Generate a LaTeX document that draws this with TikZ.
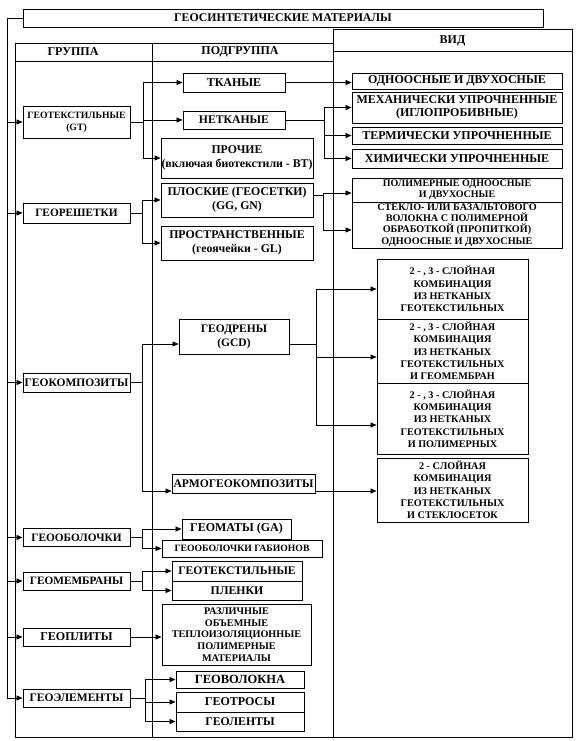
\documentclass[tikz,border=0pt]{standalone}
\usepackage{fontspec}
\setmainfont{Liberation Serif}
\usetikzlibrary{arrows.meta}
\newcommand{\myfs}[2]{\fontsize{#1}{#2}\selectfont\bfseries}
\begin{document}
\begin{tikzpicture}[x=1pt,y=-1pt,
  bx/.style={draw, line width=0.9pt, inner sep=0pt, align=center},
  hd/.style={inner sep=0pt, align=center, font=\myfs{12}{12}},
  frame/.style={line width=0.9pt},
  ln/.style={line width=0.8pt},
  arr/.style={line width=0.8pt, -{Triangle[length=6pt,width=5pt]}}]
\fill[white] (0,0) rectangle (585,741);
\useasboundingbox (0,0) rectangle (585,741);

% title
\node[bx, minimum width=520pt, minimum height=18pt, font=\myfs{11.8}{12}] (title) at (283,18) {ГЕОСИНТЕТИЧЕСКИЕ МАТЕРИАЛЫ};

% frames
\draw[frame] (15,43) rectangle (333,737);
\draw[frame] (15,61) -- (333,61);
\draw[frame] (152,43) -- (152,737);
\draw[frame] (333,29) rectangle (572,737);
\draw[frame] (333,51) -- (572,51);
\node[hd] (hgr) at (73,52) {ГРУППА};
\node[hd] (hpg) at (240,52) {ПОДГРУППА};
\node[hd] (hvid) at (452.5,40.5) {ВИД};

% groups
\node[bx, minimum width=107pt, minimum height=32pt, font=\myfs{9.7}{12}] (gt) at (76.5,122) {ГЕОТЕКСТИЛЬНЫЕ\\(GT)};
\node[bx, minimum width=107pt, minimum height=20pt, font=\myfs{11.3}{12}] (gr) at (76.5,213) {ГЕОРЕШЕТКИ};
\node[bx, minimum width=107pt, minimum height=19pt, font=\myfs{11.5}{12}] (gk) at (76.5,382.5) {ГЕОКОМПОЗИТЫ};
\node[bx, minimum width=107pt, minimum height=18pt, font=\myfs{11.3}{12}] (gob) at (76.5,537.5) {ГЕООБОЛОЧКИ};
\node[bx, minimum width=107pt, minimum height=18pt, font=\myfs{11.3}{12}] (gmb) at (76.5,581) {ГЕОМЕМБРАНЫ};
\node[bx, minimum width=107pt, minimum height=18pt, font=\myfs{12}{12}] (gpl) at (76.5,637) {ГЕОПЛИТЫ};
\node[bx, minimum width=107pt, minimum height=18pt, font=\myfs{11.5}{12}] (gel) at (76.5,698) {ГЕОЭЛЕМЕНТЫ};

% subgroups
\node[bx, minimum width=102pt, minimum height=19pt, font=\myfs{12}{12}] (tk) at (234,82.5) {ТКАНЫЕ};
\node[bx, minimum width=102pt, minimum height=18pt, font=\myfs{11.7}{12}] (nt) at (234,120) {НЕТКАНЫЕ};
\node[bx, minimum width=152pt, minimum height=40pt, font=\myfs{11.8}{14}] (pr) at (237,158) {ПРОЧИЕ\\(включая биотекстили - BT)};
\node[bx, minimum width=152pt, minimum height=34pt, font=\myfs{11.8}{14}] (pl) at (237,200) {ПЛОСКИЕ (ГЕОСЕТКИ)\\(GG, GN)};
\node[bx, minimum width=152pt, minimum height=34pt, font=\myfs{11.8}{14}] (ps) at (237,243) {ПРОСТРАНСТВЕННЫЕ\\(геоячейки - GL)};
\node[bx, minimum width=110pt, minimum height=35pt, font=\myfs{11.5}{14}] (gd) at (234,336.5) {ГЕОДРЕНЫ\\(GCD)};
\node[bx, minimum width=143pt, minimum height=19pt, font=\myfs{11.6}{12}] (am) at (243.5,484) {АРМОГЕОКОМПОЗИТЫ};
\node[bx, minimum width=109pt, minimum height=20pt, font=\myfs{12}{12}] (gm) at (236.5,529) {ГЕОМАТЫ (GA)};
\node[bx, minimum width=160pt, minimum height=17pt, font=\myfs{9.7}{11}] (gb) at (242,548.5) {ГЕООБОЛОЧКИ ГАБИОНОВ};
\node[bx, minimum width=130pt, minimum height=20pt, font=\myfs{11.6}{12}] (gtx) at (237,571) {ГЕОТЕКСТИЛЬНЫЕ};
\node[bx, minimum width=130pt, minimum height=19pt, font=\myfs{11.8}{12}] (pln) at (237,590.5) {ПЛЕНКИ};
\node[bx, minimum width=149pt, minimum height=61pt, font=\myfs{10.2}{11.8}] (rz) at (236.5,634.5) {РАЗЛИЧНЫЕ\\ОБЪЕМНЫЕ\\ТЕПЛОИЗОЛЯЦИОННЫЕ\\ПОЛИМЕРНЫЕ\\МАТЕРИАЛЫ};
\node[bx, minimum width=128pt, minimum height=17pt, font=\myfs{12.5}{12}] (gv) at (240,679.5) {ГЕОВОЛОКНА};
\node[bx, minimum width=128pt, minimum height=20pt, font=\myfs{12}{12}] (gtr) at (240,702) {ГЕОТРОСЫ};
\node[bx, minimum width=128pt, minimum height=19pt, font=\myfs{11.8}{12}] (gl) at (240,721.5) {ГЕОЛЕНТЫ};

% kinds
\node[bx, minimum width=210pt, minimum height=16pt, font=\myfs{12}{12}] (od) at (457,81) {ОДНООСНЫЕ И ДВУХОСНЫЕ};
\node[bx, minimum width=210pt, minimum height=31pt, font=\myfs{12}{13}] (mech) at (457,107.5) {МЕХАНИЧЕСКИ УПРОЧНЕННЫЕ\\(ИГЛОПРОБИВНЫЕ)};
\node[bx, minimum width=210pt, minimum height=17pt, font=\myfs{12}{12}] (term) at (457,135.5) {ТЕРМИЧЕСКИ УПРОЧНЕННЫЕ};
\node[bx, minimum width=210pt, minimum height=19pt, font=\myfs{12}{12}] (chem) at (457,158.5) {ХИМИЧЕСКИ УПРОЧНЕННЫЕ};
\node[bx, minimum width=210pt, minimum height=24pt, font=\myfs{10}{11}] (poly) at (457,190) {ПОЛИМЕРНЫЕ ОДНООСНЫЕ\\И ДВУХОСНЫЕ};
\node[bx, minimum width=210pt, minimum height=46pt, font=\myfs{10.2}{11.2}] (glass) at (457,225) {СТЕКЛО- ИЛИ БАЗАЛЬТОВОГО\\ВОЛОКНА С ПОЛИМЕРНОЙ\\ОБРАБОТКОЙ (ПРОПИТКОЙ)\\ОДНООСНЫЕ И ДВУХОСНЫЕ};
\node[bx, minimum width=151pt, minimum height=60pt, font=\myfs{10.2}{12.3}] (c1) at (452.5,289) {2 - , 3 - СЛОЙНАЯ\\КОМБИНАЦИЯ\\ИЗ НЕТКАНЫХ\\ГЕОТЕКСТИЛЬНЫХ};
\node[bx, minimum width=151pt, minimum height=64pt, font=\myfs{10.2}{12.3}] (c2) at (452.5,351) {2 - , 3 - СЛОЙНАЯ\\КОМБИНАЦИЯ\\ИЗ НЕТКАНЫХ\\ГЕОТЕКСТИЛЬНЫХ\\И ГЕОМЕМБРАН};
\node[bx, minimum width=151pt, minimum height=71pt, font=\myfs{10.2}{12.3}] (c3) at (452.5,418.5) {2 - , 3 - СЛОЙНАЯ\\КОМБИНАЦИЯ\\ИЗ НЕТКАНЫХ\\ГЕОТЕКСТИЛЬНЫХ\\И ПОЛИМЕРНЫХ};
\node[bx, minimum width=151pt, minimum height=64pt, font=\myfs{10.2}{12.3}] (c4) at (452.5,490) {2 - СЛОЙНАЯ\\КОМБИНАЦИЯ\\ИЗ НЕТКАНЫХ\\ГЕОТЕКСТИЛЬНЫХ\\И СТЕКЛОСЕТОК};

% shifted anchor points
\coordinate (gdin) at ([yshift=-7.5pt]gd.west);
\coordinate (gdout) at ([yshift=-7.5pt]gd.east);
\coordinate (amin) at ([yshift=-7pt]am.west);
\coordinate (amout) at ([yshift=-7pt]am.east);
\coordinate (plout) at ([yshift=5pt]pl.east);
\coordinate (polyin) at ([yshift=-3pt]poly.west);
\coordinate (glassin) at ([yshift=-5pt]glass.west);
\coordinate (c2in) at ([yshift=-6pt]c2.west);
\coordinate (c3in) at ([yshift=-6.5pt]c3.west);

% trunk
\coordinate (tb) at (7,698);
\draw[ln] (title.west) -| (tb);
\foreach \g in {gt,gr,gk,gob,gmb,gpl}{\draw[arr] (tb |- \g.west) -- (\g.west);}
\draw[arr] (tb) -- (gel.west);

% group -> subgroup brackets
\coordinate (bgt) at (143,0);
\draw[ln] (gt.east) -- (bgt |- gt.east);
\draw[ln] (bgt |- tk.west) -- (bgt |- pr.west);
\foreach \s in {tk,nt,pr}{\draw[arr] (bgt |- \s.west) -- (\s.west);}

\coordinate (bgr) at (142,0);
\draw[ln] (gr.east) -- (bgr |- gr.east);
\draw[ln] (bgr |- pl.west) -- (bgr |- ps.west);
\foreach \s in {pl,ps}{\draw[arr] (bgr |- \s.west) -- (\s.west);}

\coordinate (bgk) at (142,0);
\draw[ln] (gk.east) -- (bgk |- gk.east);
\draw[ln] (bgk |- gdin) -- (bgk |- amin);
\draw[arr] (bgk |- gdin) -- (gdin);
\draw[arr] (bgk |- amin) -- (amin);

\coordinate (bgo) at (142,0);
\draw[ln] (gob.east) -- (bgo |- gob.east);
\draw[ln] (bgo |- gm.west) -- (bgo |- gb.west);
\foreach \s in {gm,gb}{\draw[arr] (bgo |- \s.west) -- (\s.west);}

\coordinate (bgm) at (142,0);
\draw[ln] (gmb.east) -- (bgm |- gmb.east);
\draw[ln] (bgm |- gtx.west) -- (bgm |- pln.west);
\foreach \s in {gtx,pln}{\draw[arr] (bgm |- \s.west) -- (\s.west);}

\draw[arr] (gpl.east) -- (gpl.east -| rz.west);

\coordinate (bel) at (145,0);
\draw[ln] (gel.east) -- (bel |- gel.east);
\draw[ln] (bel |- gv.west) -- (bel |- gl.west);
\foreach \s in {gv,gtr,gl}{\draw[arr] (bel |- \s.west) -- (\s.west);}

% subgroup -> kind
\draw[arr] (tk.east) -- (tk.east -| od.west);

\coordinate (bnt) at (324,0);
\draw[ln] (nt.east) -- (bnt |- nt.east);
\draw[ln] (bnt |- mech.west) -- (bnt |- chem.west);
\foreach \s in {mech,term,chem}{\draw[arr] (bnt |- \s.west) -- (\s.west);}

\coordinate (bpl) at (323,0);
\draw[ln] (plout) -- (bpl |- plout);
\draw[ln] (bpl |- polyin) -- (bpl |- glassin);
\draw[arr] (bpl |- polyin) -- (polyin);
\draw[arr] (bpl |- glassin) -- (glassin);

\coordinate (bgd) at (316,0);
\draw[ln] (gdout) -- (bgd |- gdout);
\draw[ln] (bgd |- c1.west) -- (bgd |- c3in);
\draw[arr] (bgd |- c1.west) -- (c1.west);
\draw[arr] (bgd |- c2in) -- (c2in);
\draw[arr] (bgd |- c3in) -- (c3in);

\draw[arr] (amout) -- (amout -| c4.west);
\end{tikzpicture}
\end{document}
